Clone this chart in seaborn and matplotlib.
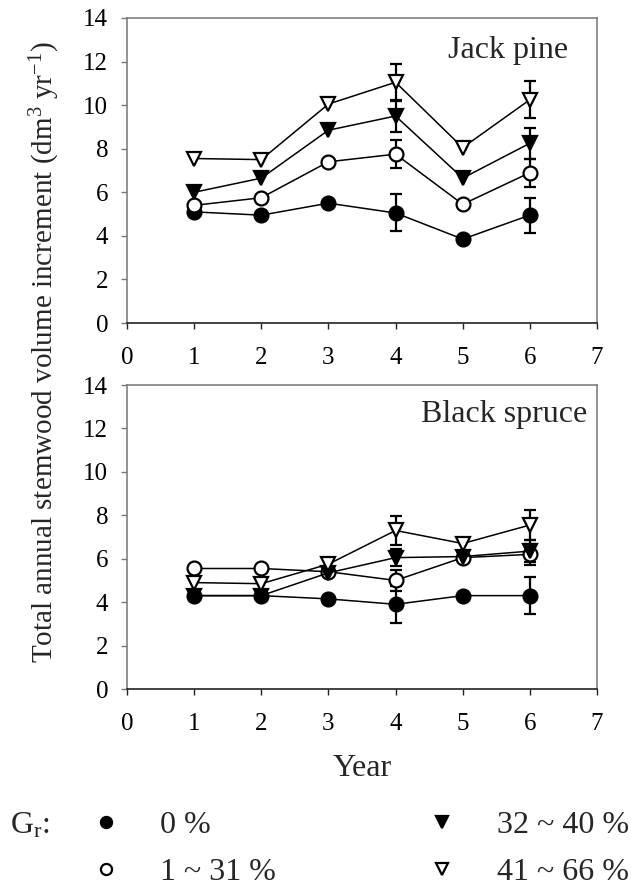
import numpy as np
import pandas as pd
import matplotlib
matplotlib.use('Agg')
import matplotlib.pyplot as plt
from matplotlib.lines import Line2D
import seaborn as sns

# Data
years = [1, 2, 3, 4, 5, 6]
groups = ['0 %', '1 ~ 31 %', '32 ~ 40 %', '41 ~ 66 %']

jack_0 = [5.1, 4.95, 5.5, 5.05, 3.85, 4.95]
jack_1_31 = [5.4, 5.75, 7.4, 7.75, 5.45, 6.9]
jack_32_40 = [6.0, 6.65, 8.85, 9.5, 6.65, 8.25]
jack_41_66 = [7.55, 7.5, 10.05, 11.05, 8.05, 10.25]

jack_err_0 = [np.nan, np.nan, np.nan, 0.85, np.nan, 0.8]
jack_err_1_31 = [np.nan, np.nan, np.nan, 0.65, np.nan, 0.65]
jack_err_32_40 = [np.nan, np.nan, np.nan, 0.75, np.nan, 0.7]
jack_err_41_66 = [np.nan, np.nan, np.nan, 0.85, np.nan, 0.85]

spruce_0 = [4.3, 4.3, 4.15, 3.9, 4.3, 4.3]
spruce_1_31 = [5.55, 5.55, 5.4, 5.0, 6.05, 6.2]
spruce_32_40 = [4.3, 4.3, 5.35, 6.05, 6.1, 6.35]
spruce_41_66 = [4.9, 4.85, 5.75, 7.3, 6.7, 7.55]

spruce_err_0 = [np.nan, np.nan, np.nan, 0.85, np.nan, 0.85]
spruce_err_1_31 = [np.nan, np.nan, np.nan, 0.5, np.nan, 0.5]
spruce_err_32_40 = [np.nan, np.nan, np.nan, 0.4, np.nan, 0.5]
spruce_err_41_66 = [np.nan, np.nan, np.nan, 0.65, np.nan, 0.7]

markers = ['o', 'o', 'v', 'v']
faces = ['black', 'white', 'black', 'white']


def build_df(vals, errs):
    rows = []
    for g, v, e in zip(groups, vals, errs):
        for yr, vv, ee in zip(years, v, e):
            rows.append({'year': yr, 'value': vv, 'err': ee, 'group': g})
    return pd.DataFrame(rows)


jack_df = build_df([jack_0, jack_1_31, jack_32_40, jack_41_66],
                   [jack_err_0, jack_err_1_31, jack_err_32_40, jack_err_41_66])
spruce_df = build_df([spruce_0, spruce_1_31, spruce_32_40, spruce_41_66],
                     [spruce_err_0, spruce_err_1_31, spruce_err_32_40, spruce_err_41_66])

sns.set_theme(style='ticks')
plt.rcParams['font.family'] = ['Liberation Serif', 'DejaVu Serif']
plt.rcParams['mathtext.fontset'] = 'custom'
plt.rcParams['mathtext.rm'] = 'Liberation Serif'
plt.rcParams['mathtext.it'] = 'Liberation Serif'

fig = plt.figure(figsize=(6.31, 8.88), dpi=100)
W, H = 631, 888
ax1 = fig.add_axes([127 / W, 1 - 323 / H, 470 / W, 305 / H])
ax2 = fig.add_axes([127 / W, 1 - 689 / H, 470 / W, 304 / H])


def draw_panel(ax, df, title, tx, ty):
    for g, m, fc in zip(groups, markers, faces):
        sub = df[df['group'] == g]
        ax.errorbar(sub['year'], sub['value'], yerr=sub['err'], fmt='none',
                    ecolor='black', elinewidth=1.6, capsize=4.5, capthick=1.6, zorder=2)
        sns.lineplot(data=sub, x='year', y='value', ax=ax, color='black',
                     marker=m, markersize=10, markerfacecolor=fc,
                     markeredgecolor='black', markeredgewidth=1.6,
                     linewidth=1.1, zorder=3)
    ax.set_xlim(0, 7)
    ax.set_ylim(0, 14)
    ax.set_xticks(range(0, 8))
    ax.set_yticks(range(0, 15, 2))
    ax.set_xlabel('')
    ax.set_ylabel('')
    ax.tick_params(axis='x', direction='out', length=4, width=1,
                   labelsize=18, colors='#222222', labelcolor='black', pad=13)
    ax.tick_params(axis='y', direction='out', length=4, width=1,
                   labelsize=18, colors='#777777', labelcolor='black', pad=9.5)
    ax.spines['bottom'].set_color('#222222')
    ax.spines['bottom'].set_linewidth(1.2)
    for s in ['left', 'top', 'right']:
        ax.spines[s].set_color('#808080')
        ax.spines[s].set_linewidth(1.2)
    ax.text(tx, ty, title, ha='right', va='center', fontsize=23)


draw_panel(ax1, jack_df, 'Jack pine', 6.57, 12.5)
draw_panel(ax2, spruce_df, 'Black spruce', 6.85, 12.65)

fig.text(45 / W, 1 - 352 / H,
         'Total annual stemwood volume increment (dm$^{3}$ yr$^{-1}$)',
         rotation=90, ha='center', va='center', fontsize=21)
fig.text(362 / W, 1 - 768 / H, 'Year', ha='center', va='center', fontsize=23)

fig.text(10 / W, 1 - 826 / H, 'G$_{\\mathrm{r}}$:', ha='left', va='center', fontsize=23)
handles = [Line2D([], [], linestyle='none', marker=m, markersize=8,
                  markerfacecolor=fc, markeredgecolor='black', markeredgewidth=1.6)
           for m, fc in zip(markers, faces)]
fig.legend(handles, groups, ncol=2, frameon=False, fontsize=23,
           loc='center left', bbox_to_anchor=(74 / W, 1 - 849 / H),
           borderpad=0, handletextpad=1.2, columnspacing=4.7, labelspacing=0.55,
           handlelength=1.0)

fig.savefig('out.png', dpi=100)
